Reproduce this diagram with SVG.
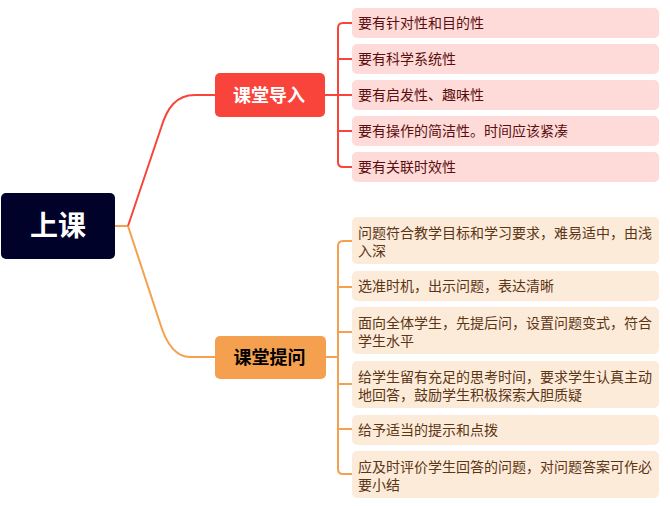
<svg xmlns="http://www.w3.org/2000/svg" width="670" height="506" viewBox="0 0 670 506">
<style>
text{font-family:"Liberation Sans","Noto Sans CJK SC",sans-serif;}
.red{fill:none;stroke:#F9443B;stroke-width:2;}
.org{fill:none;stroke:#F5A04F;stroke-width:2;}
.lr rect{fill:#FEDBD9;}
.lr text{fill:#5C0E0E;font-size:14px;}
.lo rect{fill:#FDEBDA;}
.lo text{fill:#5B3616;font-size:14px;}
</style>
<rect width="670" height="506" fill="#fff"/>
<g id="connectors">
<path class="org" d="M115 226 L128 226"/>
<path class="red" d="M128 226 L161 128 C167 108 176 95 195 95 L215 95"/>
<path class="org" d="M128 226 L160 323 C166 343 175 357 190 357 L215 357"/>
<path class="red" d="M325 95 L338 95"/>
<path class="red" d="M352 23 L343 23 Q338 23 338 28 L338 162 Q338 167 343 167 L352 167 M338 59 L352 59 M338 95 L352 95 M338 131 L352 131"/>
<path class="org" d="M326 357 L338 357"/>
<path class="org" d="M352 241 L343 241 Q338 241 338 246 L338 469 Q338 474 343 474 L352 474 M338 287 L352 287 M338 332 L352 332 M338 384 L352 384 M338 429 L352 429"/>
</g>
<g id="root">
<rect x="1" y="193" width="114" height="66" rx="5" fill="#000229"/>
<text x="58" y="236" font-size="28" font-weight="bold" fill="#fff" text-anchor="middle">上课</text>
</g>
<g id="n1">
<rect x="215" y="73" width="110" height="44" rx="5" fill="#F9443B"/>
<text x="269" y="102" font-size="18" font-weight="bold" fill="#fff" text-anchor="middle">课堂导入</text>
</g>
<g id="n2">
<rect x="215" y="336" width="111" height="43" rx="5" fill="#F5A04F"/>
<text x="269.5" y="364" font-size="18" font-weight="bold" fill="#000" text-anchor="middle">课堂提问</text>
</g>
<g id="a1" class="lr"><rect x="352" y="8" width="307" height="30" rx="5"/><text x="358" y="28">要有针对性和目的性</text></g>
<g id="a2" class="lr"><rect x="352" y="44" width="307" height="30" rx="5"/><text x="358" y="64">要有科学系统性</text></g>
<g id="a3" class="lr"><rect x="352" y="80" width="307" height="30" rx="5"/><text x="358" y="100">要有启发性、趣味性</text></g>
<g id="a4" class="lr"><rect x="352" y="116" width="307" height="30" rx="5"/><text x="358" y="136">要有操作的简洁性。时间应该紧凑</text></g>
<g id="a5" class="lr"><rect x="352" y="152" width="307" height="30" rx="5"/><text x="358" y="172">要有关联时效性</text></g>
<g id="b1" class="lo"><rect x="352" y="217" width="307" height="47" rx="5"/><text x="358" y="238">问题符合教学目标和学习要求，难易适中，由浅<tspan x="358" dy="18">入深</tspan></text></g>
<g id="b2" class="lo"><rect x="352" y="271" width="307" height="30" rx="5"/><text x="358" y="291">选准时机，出示问题，表达清晰</text></g>
<g id="b3" class="lo"><rect x="352" y="307" width="307" height="47" rx="5"/><text x="358" y="328">面向全体学生，先提后问，设置问题变式，符合<tspan x="358" dy="18">学生水平</tspan></text></g>
<g id="b4" class="lo"><rect x="352" y="361" width="307" height="47" rx="5"/><text x="358" y="382">给学生留有充足的思考时间，要求学生认真主动<tspan x="358" dy="18">地回答，鼓励学生积极探索大胆质疑</tspan></text></g>
<g id="b5" class="lo"><rect x="352" y="415" width="307" height="30" rx="5"/><text x="358" y="435">给予适当的提示和点拨</text></g>
<g id="b6" class="lo"><rect x="352" y="451" width="307" height="47" rx="5"/><text x="358" y="472">应及时评价学生回答的问题，对问题答案可作必<tspan x="358" dy="18">要小结</tspan></text></g>
</svg>
